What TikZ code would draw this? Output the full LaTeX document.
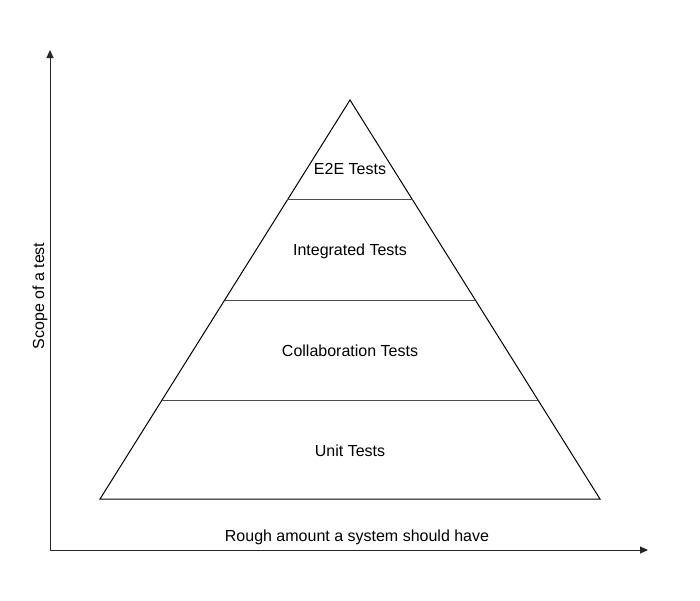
\documentclass[tikz,border=0pt]{standalone}
\usepackage{fontspec}
\setmainfont{Liberation Sans}
\usetikzlibrary{arrows.meta,calc}
\begin{document}
\begin{tikzpicture}[
  x=1pt, y=-1pt,
  axis/.style={draw=black!85, line width=1pt, -{Triangle[length=8pt,width=7pt]}},
  layer/.style={draw=black, line width=1pt, line join=miter},
  band/.style={draw=black!70, line width=1pt},
  label/.style={font=\fontsize{16}{18}\selectfont, inner sep=0pt}
]
\useasboundingbox (0,0) rectangle (700,600);

% axes
\coordinate (origin) at (50,550);
\coordinate (ytop)   at (50,50);
\coordinate (xend)   at (648,550);
\draw[axis] (origin) -- (ytop);
\draw[axis] (origin) -- (xend);

% pyramid
\coordinate (apex) at (350,100);
\coordinate (bl)   at (100,499);
\coordinate (br)   at (600,499);
\draw[layer] (apex) -- (br) -- (bl) -- cycle;

\coordinate (e2eL) at ($(apex)!0.2506!(bl)$);
\coordinate (e2eR) at ($(apex)!0.2506!(br)$);
\coordinate (intL) at ($(apex)!0.5013!(bl)$);
\coordinate (intR) at ($(apex)!0.5013!(br)$);
\coordinate (colL) at ($(apex)!0.7519!(bl)$);
\coordinate (colR) at ($(apex)!0.7519!(br)$);
\draw[band] (e2eL) -- (e2eR);
\draw[band] (intL) -- (intR);
\draw[band] (colL) -- (colR);

\node[label] (e2e)  at (350,169) {E2E Tests};
\node[label] (int)  at (350,251) {Integrated Tests};
\node[label] (col)  at (350,351) {Collaboration Tests};
\node[label] (unit) at (350,451) {Unit Tests};

\node[label] (xlab) at (357,537) {Rough amount a system should have};
\node[label, rotate=90] (ylab) at (40,296) {Scope of a test};
\end{tikzpicture}
\end{document}
